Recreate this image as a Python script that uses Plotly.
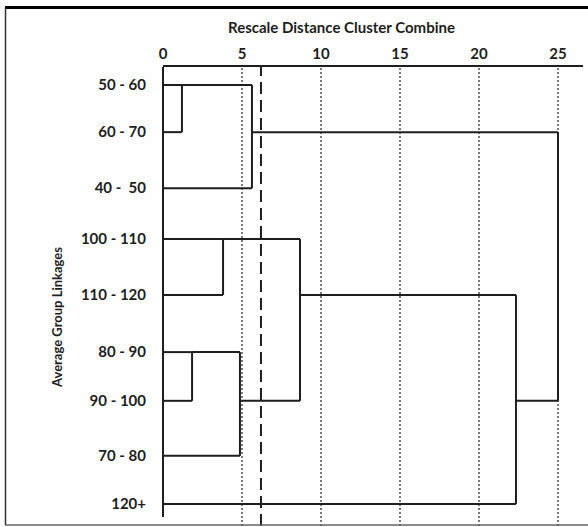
import plotly.graph_objects as go

# ---- data ----
leaf_labels = ["50 - 60", "60 - 70", "40 -\u00a0\u00a050", "100 - 110", "110 - 120",
               "80 - 90", "90 - 100", "70 - 80", "120+"]
leaf_pos = [0.0, 0.90, 1.97, 2.94, 4.01, 5.10, 6.03, 7.08, 8.0]

# merges: node ids 0..8 are leaves, new nodes get ids 9, 10, ...
merge_left = [0, 9, 3, 5, 12, 11, 14, 10]
merge_right = [1, 2, 4, 6, 7, 13, 8, 15]
merge_dist = [1.2, 5.63, 3.8, 1.84, 4.87, 8.67, 22.34, 25.0]
merge_anchor_leaf = [0, 1, 3, 5, 6, 4, 6, None]   # row where the joined cluster continues

cut_distance = 6.2
x_ticks = [0, 5, 10, 15, 20, 25]
grid_ticks = [5, 10, 15, 20, 25]

# ---- build dendrogram segments ----
node_x = [0.0] * len(leaf_labels)
node_y = list(leaf_pos)
xs, ys = [], []
for a, b, d, anc in zip(merge_left, merge_right, merge_dist, merge_anchor_leaf):
    xs += [node_x[a], d, None, node_x[b], d, None, d, d, None]
    ys += [node_y[a], node_y[a], None, node_y[b], node_y[b], None, node_y[a], node_y[b], None]
    node_x.append(d)
    node_y.append(leaf_pos[anc] if anc is not None else None)

FONT = "Lato, 'Open Sans', sans-serif"
INK = "#1e1e1e"

fig = go.Figure()
fig.add_trace(go.Scatter(x=xs, y=ys, mode="lines",
                         line=dict(color=INK, width=2), hoverinfo="skip",
                         showlegend=False))

# pixel helpers for paper-referenced decorations
L, R, T, B = 163, 583, 67, 526
def px(xp):
    return (xp - L) / (R - L)
def py(yp):
    return (B - yp) / (B - T)

shapes = []
for g in grid_ticks:
    shapes.append(dict(type="line", xref="x", yref="paper", x0=g, x1=g, y0=0, y1=1,
                       line=dict(color="#505050", width=1.5, dash="2px,2px"), layer="below"))
shapes.append(dict(type="line", xref="x", yref="paper", x0=cut_distance, x1=cut_distance,
                   y0=0, y1=1, line=dict(color=INK, width=2, dash="12px,6px"), layer="below"))
# left axis line (ends short of the frame)
shapes.append(dict(type="line", xref="paper", yref="paper", x0=0, x1=0, y0=py(517), y1=1,
                   line=dict(color=INK, width=2)))
# outer frame
shapes.append(dict(type="line", xref="paper", yref="paper", x0=px(5), x1=px(590),
                   y0=py(7.5), y1=py(7.5), line=dict(color="#000", width=3)))
shapes.append(dict(type="line", xref="paper", yref="paper", x0=px(5.5), x1=px(5.5),
                   y0=py(7.5), y1=py(525), line=dict(color="#333", width=1.5)))
shapes.append(dict(type="line", xref="paper", yref="paper", x0=px(5), x1=px(590),
                   y0=py(525), y1=py(525), line=dict(color="#666", width=1.5)))

fig.update_layout(
    width=588, height=527,
    margin=dict(l=L, r=588 - R, t=T, b=527 - B),
    paper_bgcolor="white", plot_bgcolor="white",
    shapes=shapes,
    xaxis=dict(side="top", range=[0, (R - L) / 15.8], tickvals=x_ticks,
               ticktext=[str(v) for v in x_ticks],
               showgrid=False, zeroline=False, showline=True, linecolor=INK, linewidth=2,
               ticks="", ticklabelstandoff=0,
               tickfont=dict(family=FONT, size=15, color=INK, weight=700)),
    yaxis=dict(range=[(B - 85) / 52.375, (T - 85) / 52.375], tickvals=leaf_pos,
               ticktext=leaf_labels, showgrid=False, zeroline=False, showline=False,
               ticks="", ticklabelstandoff=16,
               tickfont=dict(family=FONT, size=15, color=INK, weight=700)),
    annotations=[
        dict(text="Rescale Distance Cluster Combine", xref="paper", yref="paper",
             x=px(341), y=py(27), showarrow=False, xanchor="center", yanchor="middle",
             font=dict(family=FONT, size=15, color=INK, weight=700)),
        dict(text="Average Group Linkages", xref="paper", yref="paper",
             x=px(57), y=py(318), showarrow=False, textangle=-90,
             xanchor="center", yanchor="middle",
             font=dict(family=FONT, size=13, color=INK, weight=700)),
    ],
)

fig.write_html("out.html", config={"displayModeBar": False},
               post_script="document.body.style.margin='0';document.body.style.overflow='hidden';")
